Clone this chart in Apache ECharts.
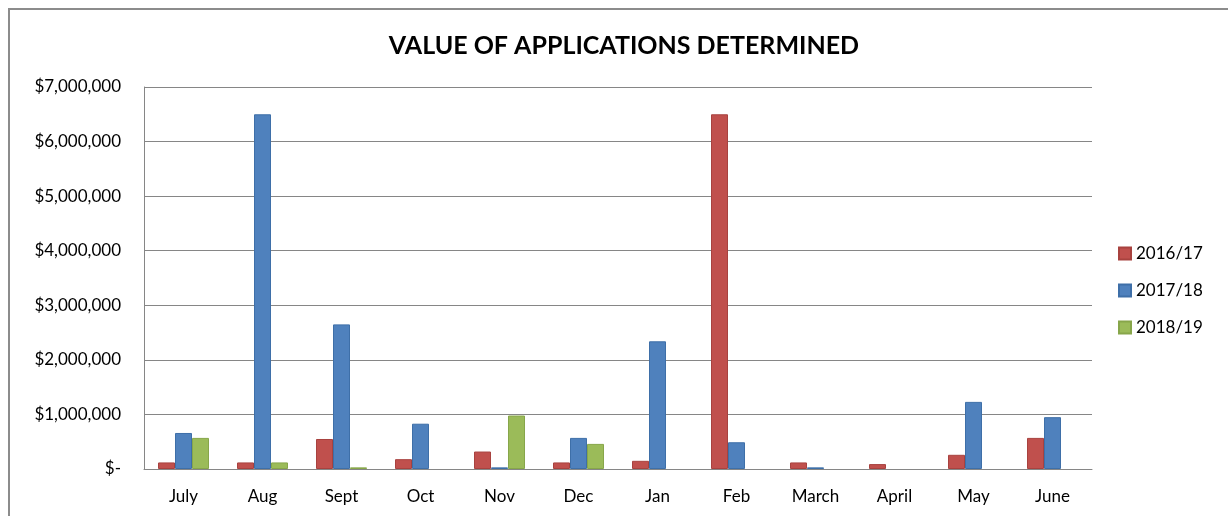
<!DOCTYPE html>
<html>
<head>
<meta charset="utf-8">
<script src="https://cdn.jsdelivr.net/npm/echarts@6/dist/echarts.min.js"></script>
<style>
    html, body { margin: 0; padding: 0; background: #fff; }
    #main { position: absolute; left: 8px; top: 8px; width: 1228px; height: 516px; border: 2px solid #8c8c8c; box-sizing: border-box; }
</style>
</head>
<body>
<div id="main"></div>
<script>
var months = ['July', 'Aug', 'Sept', 'Oct', 'Nov', 'Dec', 'Jan', 'Feb', 'March', 'April', 'May', 'June'];
var seriesNames = ['2016/17', '2017/18', '2018/19'];
var values1617 = [120000, 120000, 550000, 180000, 320000, 120000, 150000, 6500000, 120000, 90000, 260000, 570000];
var values1718 = [660000, 6500000, 2650000, 830000, 30000, 570000, 2340000, 490000, 30000, null, 1230000, 950000];
var values1819 = [570000, 120000, 30000, null, 980000, 460000, null, null, null, null, null, null];
var colors = ['#C0504D', '#4F81BD', '#9BBB59'];
var borders = ['#A8423F', '#3E6FA8', '#87A64A'];

~function () {
    var myChart = echarts.init(document.getElementById('main'));
    var font = 'Lato, "Open Sans", sans-serif';

    function money(v) {
        if (v === 0) return '$-';
        return '$' + String(v).replace(/\B(?=(\d{3})+(?!\d))/g, ',');
    }

    var data = [values1617, values1718, values1819];
    var series = seriesNames.map(function (name, i) {
        return {
            name: name,
            type: 'bar',
            barWidth: 17,
            barGap: '0%',
            itemStyle: { color: colors[i], borderColor: borders[i], borderWidth: 1 },
            data: data[i]
        };
    });

    var option = {
        animation: false,
        title: {
            text: 'VALUE OF APPLICATIONS DETERMINED',
            left: 609,
            textAlign: 'center',
            top: 18,
            textStyle: { fontFamily: font, fontWeight: 'bold', fontSize: 25, color: '#000' }
        },
        legend: {
            orient: 'vertical',
            left: 1103,
            top: 230,
            itemWidth: 12,
            itemHeight: 12,
            itemGap: 20,
            icon: 'rect',
            textStyle: { fontFamily: font, fontSize: 17, color: '#000' },
            data: seriesNames
        },
        grid: {
            left: 134,
            top: 77,
            width: 948,
            height: 382,
            containLabel: false
        },
        xAxis: {
            type: 'category',
            data: months,
            axisLine: { lineStyle: { color: '#868686', width: 1 } },
            axisTick: { show: false },
            axisLabel: { fontFamily: font, fontSize: 17, color: '#000', margin: 19 }
        },
        yAxis: {
            type: 'value',
            min: 0,
            max: 7000000,
            interval: 1000000,
            axisLine: { show: true, lineStyle: { color: '#868686' } },
            axisTick: { show: false },
            splitLine: { lineStyle: { color: '#868686', width: 1 } },
            axisLabel: { fontFamily: font, fontSize: 17, color: '#000', margin: 23, formatter: money }
        },
        series: series
    };
    myChart.setOption(option);
}();
</script>
</body>
</html>
